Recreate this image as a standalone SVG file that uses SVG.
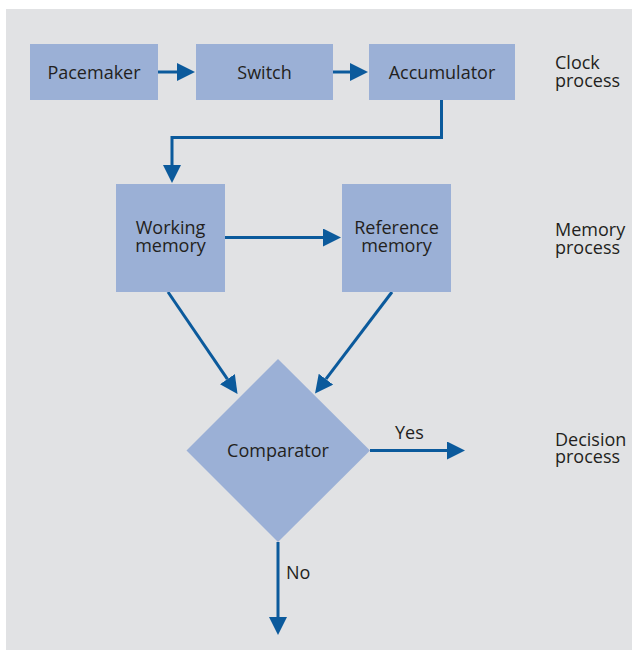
<svg xmlns="http://www.w3.org/2000/svg" width="635" height="650" viewBox="0 0 635 650">
<style>
.bg{fill:#e1e2e4}
.box{fill:#9bb0d6}
.t{font-family:"Open Sans","Liberation Sans",sans-serif;font-size:18px;fill:#231f20}
.c{text-anchor:middle}
.ln{fill:none;stroke:#0b5a9c;stroke-width:3;marker-end:url(#ah)}
</style>
<defs>
<marker id="ah" markerUnits="userSpaceOnUse" markerWidth="18" markerHeight="18" viewBox="0 0 18 18" refX="0" refY="9" orient="auto">
<path d="M0,0 L18,9 L0,18 z" fill="#0b5a9c"/>
</marker>
</defs>
<rect class="bg" x="6" y="9" width="626" height="641"/>
<g id="connectors">
<path class="ln" d="M158,72 H177"/>
<path class="ln" d="M333,72 H350"/>
<path class="ln" d="M441.5,100 V137.5 H172 V165"/>
<path class="ln" d="M225,237.5 H323"/>
<path class="ln" d="M168,292 L227.4,379.1"/>
<path class="ln" d="M392,292 L325.9,379.2"/>
<path class="ln" d="M370,450.5 H447"/>
<path class="ln" d="M278,542 V617"/>
</g>
<g id="pacemaker"><rect class="box" x="30" y="44" width="128" height="56"/><text class="t c" x="94" y="78.5">Pacemaker</text></g>
<g id="switch"><rect class="box" x="196" y="44" width="137" height="56"/><text class="t c" x="264.5" y="78.5">Switch</text></g>
<g id="accumulator"><rect class="box" x="369" y="44" width="146" height="56"/><text class="t c" x="442" y="78.5">Accumulator</text></g>
<g id="working-memory"><rect class="box" x="116" y="184" width="109" height="108"/><text class="t c" x="170.5" y="234">Working</text><text class="t c" x="170.5" y="252">memory</text></g>
<g id="reference-memory"><rect class="box" x="342" y="184" width="109" height="108"/><text class="t c" x="396.5" y="234">Reference</text><text class="t c" x="396.5" y="252">memory</text></g>
<g id="comparator"><polygon class="box" points="278,359 370,450.5 278,542 186.5,450.5"/><text class="t c" x="278" y="457">Comparator</text></g>
<g id="edge-labels"><text class="t" x="395" y="439">Yes</text><text class="t" x="286" y="579">No</text></g>
<g id="stage-labels">
<text class="t" x="555" y="69">Clock</text><text class="t" x="555" y="87">process</text>
<text class="t" x="555" y="236">Memory</text><text class="t" x="555" y="254">process</text>
<text class="t" x="555" y="446">Decision</text><text class="t" x="555" y="463">process</text>
</g>
</svg>
